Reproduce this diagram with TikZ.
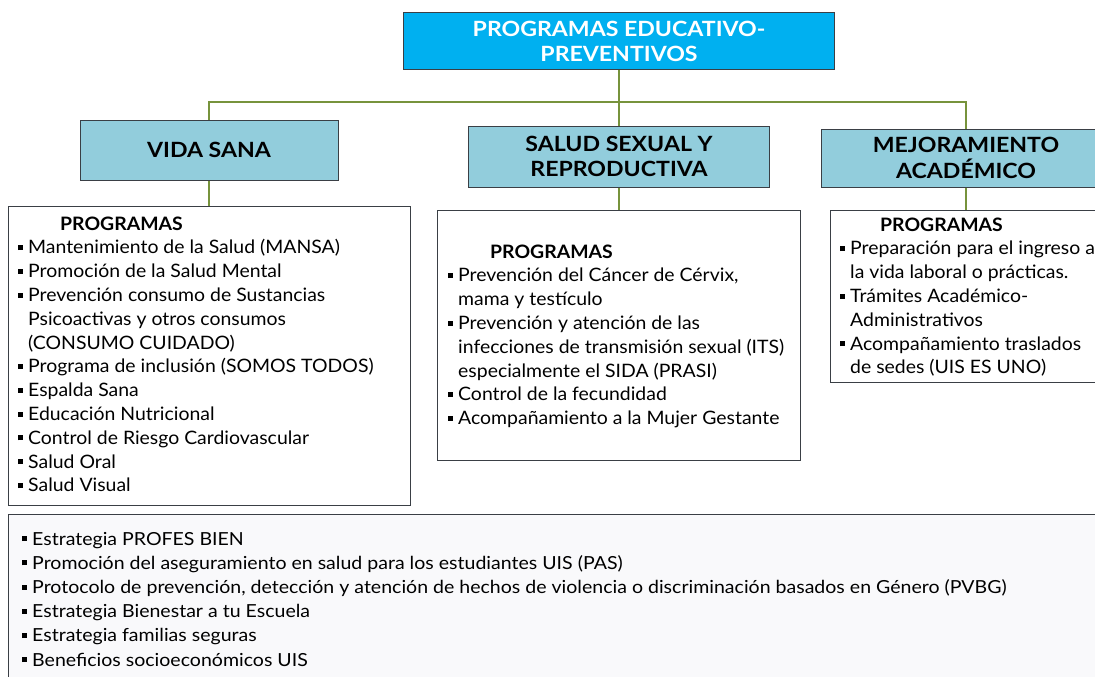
\documentclass[tikz,border=0pt]{standalone}
\usepackage{fontspec}
\setmainfont{Lato}[FakeStretch=1.05]
\newfontfamily\headfont[FakeStretch=1.1]{Lato}
\newfontfamily\wideLfont[FakeStretch=1.085]{Lato}
\definecolor{topcyan}{HTML}{00B0F0}
\definecolor{catblue}{HTML}{92CDDC}
\definecolor{linkgreen}{HTML}{77933C}
\definecolor{edgegray}{HTML}{3A3F45}
\definecolor{lightfill}{HTML}{F9F9FB}
\newcommand\blt{\makebox[10pt][l]{\rule[3.8pt]{5pt}{5pt}}}
\newcommand\itm[1]{\par\noindent\hangindent=10pt\hangafter=1\blt #1}
\newcommand\hdr[2]{\par\noindent\hspace*{#1}\textbf{#2}}
\begin{document}
\begin{tikzpicture}[x=1pt,y=-1pt,
  topbox/.style={draw=edgegray,line width=1pt,fill=topcyan,text=white,font=\headfont\bfseries\fontsize{21}{25.5}\selectfont,align=center,inner sep=0pt},
  catbox/.style={draw=edgegray,line width=1pt,fill=catblue,text=black,font=\headfont\bfseries\fontsize{21}{25.5}\selectfont,align=center,inner sep=0pt},
  listbox/.style={draw=edgegray,line width=0.8pt,fill=white,inner sep=0pt},
  bigbox/.style={draw=edgegray,line width=0.8pt,fill=lightfill,inner sep=0pt},
  listtext/.style={anchor=base west,inner sep=0pt,font=\fontsize{18.5}{23.8}\selectfont},
  link/.style={draw=linkgreen,line width=1.3pt}]
\clip (0,0) rectangle (1095,677);
\fill[white] (0,0) rectangle (1095,677);
% headers
\node[topbox,minimum width=431pt,minimum height=57pt] (top) at (619,41.5) {PROGRAMAS EDUCATIVO-\\PREVENTIVOS};
\node[catbox,minimum width=258pt,minimum height=60pt] (vs) at (209,150) {VIDA SANA};
\node[catbox,minimum width=301pt,minimum height=61pt] (ss) at (619,156.5) {SALUD SEXUAL Y\\REPRODUCTIVA};
\node[catbox,minimum width=290pt,minimum height=58pt] (ma) at (966,158) {MEJORAMIENTO\\ACADÉMICO};
% program boxes
\node[listbox,minimum width=402pt,minimum height=299pt] (vsl) at (209,355.5) {};
\node[listbox,minimum width=363pt,minimum height=250pt] (ssl) at (619,335) {};
\node[listbox,minimum width=272pt,minimum height=172pt] (mal) at (966,296) {};
\node[bigbox,minimum width=1092pt,minimum height=170pt] (oth) at (554,599) {};
% connectors
\coordinate (bus) at (619,102);
\draw[link] (top.south) -- (bus);
\draw[link] (vs.north) |- (bus) -| (ma.north);
\draw[link] (bus) -- (ss.north);
\draw[link] (vs.south) -- (vsl.north);
\draw[link] (ss.south) -- (ssl.north);
\draw[link] (ma.south) -- (mal.north);
% texts
\node[listtext] (vst) at (18,230) {\begin{minipage}[t]{400pt}\raggedright
\hdr{42pt}{PROGRAMAS}
\itm{Mantenimiento de la Salud (MANSA)}
\itm{Promoción de la Salud Mental}
\itm{Prevención consumo de Sustancias\newline Psicoactivas y otros consumos\newline (CONSUMO CUIDADO)}
\itm{Programa de inclusión (SOMOS TODOS)}
\itm{Espalda Sana}
\itm{Educación Nutricional}
\itm{Control de Riesgo Cardiovascular}
\itm{Salud Oral}
\itm{Salud Visual}
\end{minipage}};
\node[listtext] (sst) at (448,258) {\begin{minipage}[t]{400pt}\raggedright
\hdr{42pt}{PROGRAMAS}
\itm{Prevención del Cáncer de Cérvix,\newline mama y testículo}
\itm{Prevención y atención de las\newline infecciones de transmisión sexual (ITS)\newline especialmente el SIDA (PRASI)}
\itm{Control de la fecundidad}
\itm{Acompañamiento a la Mujer Gestante}
\end{minipage}};
\node[listtext] (mat) at (840,231) {\begin{minipage}[t]{400pt}\raggedright
\hdr{40pt}{PROGRAMAS}
\itm{Preparación para el ingreso a\newline la vida laboral o prácticas.}
\itm{Trámites Académico-\newline Administrativos}
\itm{Acompañamiento traslados\newline de sedes (UIS ES UNO)}
\end{minipage}};
\node[listtext,font=\wideLfont\fontsize{18}{24.2}\selectfont] (otht) at (22,545) {\begin{minipage}[t]{1070pt}\raggedright
\itm{Estrategia PROFES BIEN}
\itm{Promoción del aseguramiento en salud para los estudiantes UIS (PAS)}
\itm{Protocolo de prevención, detección y atención de hechos de violencia o discriminación basados en Género (PVBG)}
\itm{Estrategia Bienestar a tu Escuela}
\itm{Estrategia familias seguras}
\itm{Beneficios socioeconómicos UIS}
\end{minipage}};
\end{tikzpicture}
\end{document}
